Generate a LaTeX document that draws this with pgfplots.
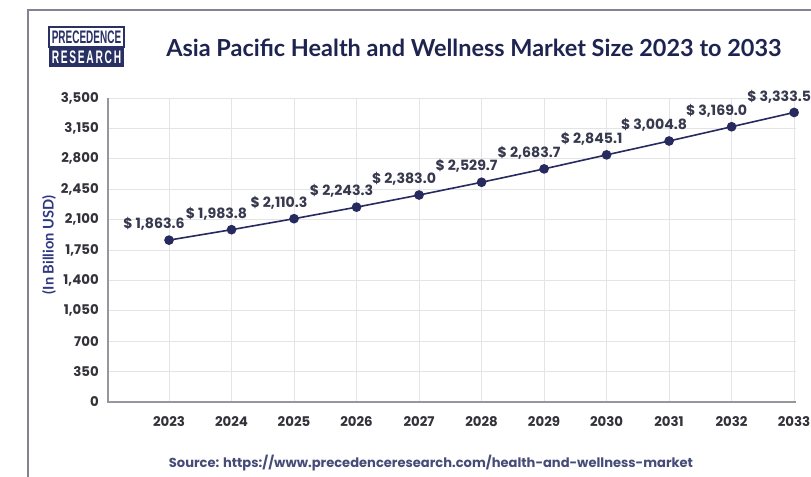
\documentclass[border=0pt]{standalone}
\usepackage{pgfplots}
\pgfplotsset{compat=1.18}
\usepackage{fontspec}
\setmainfont{Poppins}
\newfontfamily\latofont{Lato}
\newfontfamily\liberfont{Liberation Sans}
\definecolor{linec}{RGB}{38,42,94}
\definecolor{titlec}{RGB}{30,36,80}
\definecolor{ylabc}{RGB}{45,55,130}
\definecolor{srcc}{RGB}{70,75,120}
\definecolor{tickc}{RGB}{50,50,58}
\definecolor{labc}{RGB}{55,58,78}
\definecolor{gridc}{RGB}{228,228,232}
\definecolor{axisc}{RGB}{150,150,156}
\definecolor{framec}{RGB}{130,130,145}
\definecolor{logoc}{RGB}{40,48,100}
\begin{document}
\begin{tikzpicture}
\useasboundingbox (0,0) rectangle (608.25pt,357.75pt);
\fill[white] (0,0) rectangle (608.25pt,357.75pt);
% frame
\draw[framec, line width=1.2pt] (21pt,-2pt) -- (21pt,350.25pt) -- (612pt,350.25pt);
% logo
\draw[logoc, line width=0.8pt, fill=white] (36.75pt,322.5pt) rectangle (93pt,337.5pt);
\fill[logoc] (36.75pt,307.5pt) rectangle (93pt,322.5pt);
\node[text=logoc, inner sep=0pt] at (64.875pt,330pt) {\resizebox{52pt}{9.5pt}{\liberfont\bfseries PRECEDENCE}};
\node[text=white, inner sep=0pt] at (64.875pt,315pt) {\resizebox{52pt}{9.5pt}{\liberfont\bfseries R\,E\,S\,E\,A\,R\,C\,H}};
% title
\node[anchor=base west, text=titlec, inner sep=0pt, font=\latofont\bfseries\fontsize{17.6}{20}\selectfont] at (124.5pt,315pt) {Asia Pacific Health and Wellness Market Size 2023 to 2033};
% y label
\node[rotate=90, text=ylabc, font=\latofont\bfseries\fontsize{11}{13}\selectfont] at (36.75pt,174pt) {(In Billion USD)};
% source
\node[text=srcc, font=\bfseries\fontsize{9.8}{12}\selectfont] at (323.25pt,10.5pt) {Source: https://www.precedenceresearch.com/health-and-wellness-market};
\begin{axis}[
  at={(81pt,56.25pt)}, anchor=south west,
  width=516pt, height=228pt, scale only axis,
  xmin=2022.024, xmax=2033.03, ymin=0, ymax=3500,
  xtick={2023,...,2033}, ytick={0,350,...,3500},
  grid=major, grid style={gridc, line width=0.6pt},
  axis line style={draw=none},
  major tick length=0pt,
  clip=false,
  scaled y ticks=false,
  /pgf/number format/assume math mode=true,
  tick label style={font=\bfseries\fontsize{10}{12}\selectfont, text=tickc},
  yticklabel style={anchor=east, inner sep=0pt, xshift=-6.75pt},
  xticklabel style={anchor=center, inner sep=0pt, yshift=-15pt, /pgf/number format/1000 sep={}},
  point meta=y,
  nodes near coords={\$ \pgfmathprintnumber[fixed,fixed zerofill,precision=1,1000 sep={,}]{\pgfplotspointmeta}},
  nodes near coords style={anchor=center, xshift=-11.25pt, yshift=12pt, font=\bfseries\fontsize{10.6}{12}\selectfont, text=labc},
]
\draw[axisc, line width=1pt] (axis cs:2022.024,3500) -- (axis cs:2022.024,0) -- (axis cs:2033.03,0);
\addplot[linec, line width=1.2pt, mark=*, mark size=3pt, mark options={fill=linec, draw=linec}] coordinates {
(2023,1863.6) (2024,1983.8) (2025,2110.3) (2026,2243.3) (2027,2383.0) (2028,2529.7)
(2029,2683.7) (2030,2845.1) (2031,3004.8) (2032,3169.0) (2033,3333.5)};
\end{axis}
\end{tikzpicture}
\end{document}
